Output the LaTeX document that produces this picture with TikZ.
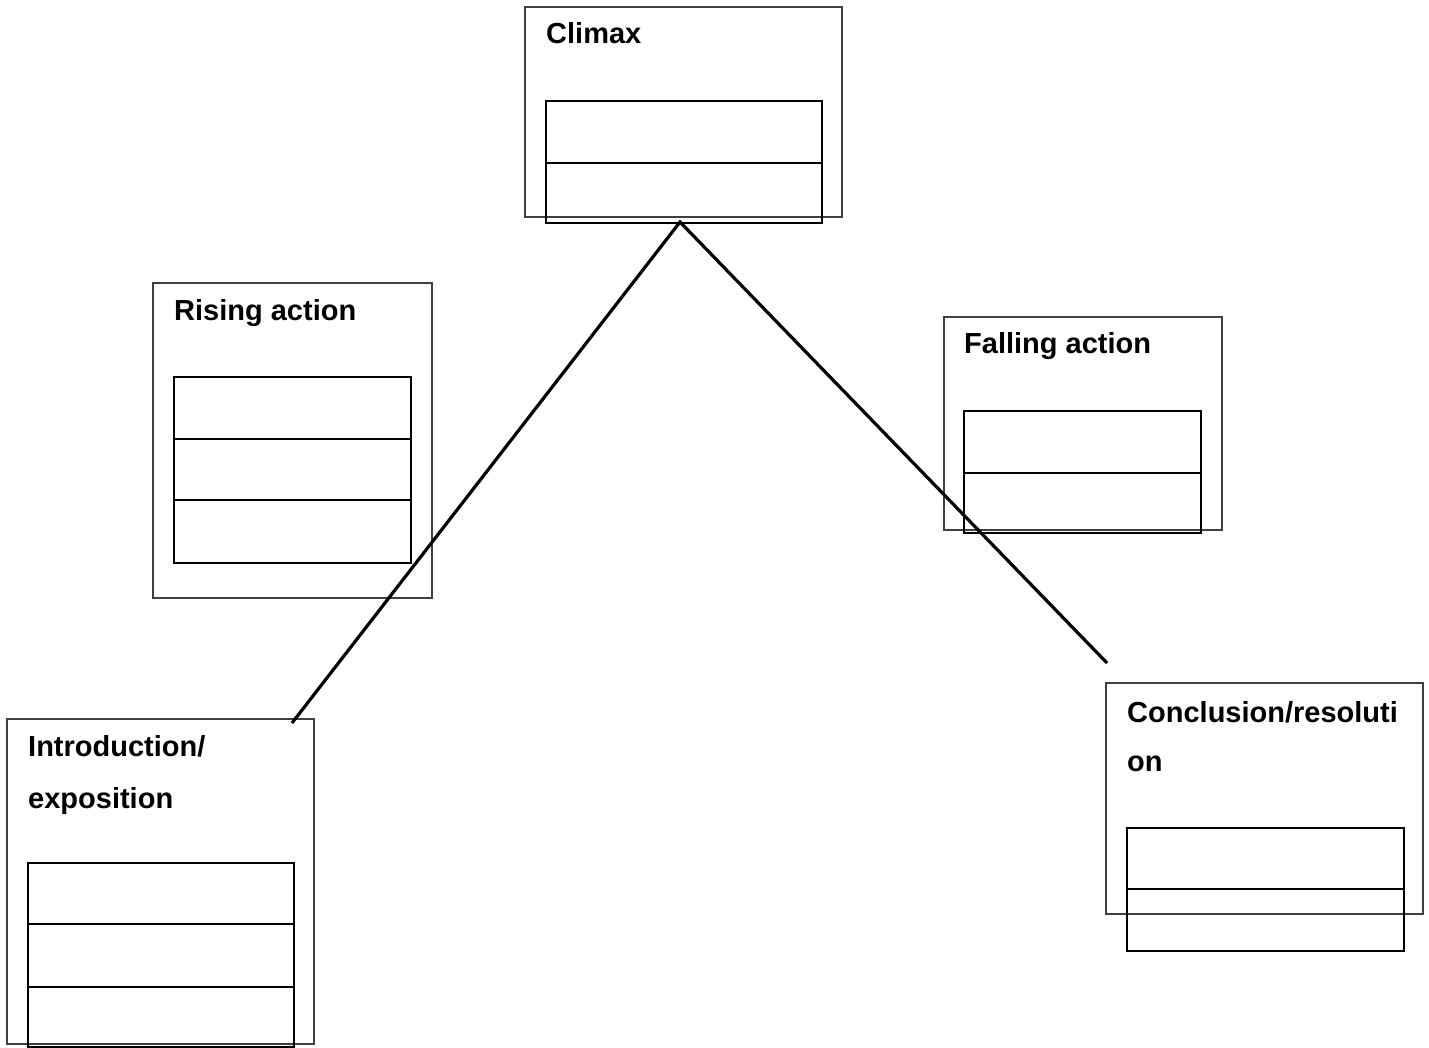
\documentclass[tikz,border=0pt]{standalone}
\usepackage{fontspec}
\setmainfont{Liberation Sans}
\begin{document}
\begin{tikzpicture}[x=1pt,y=-1pt,
  frame/.style={draw=black!75, line width=1.1pt, inner sep=0pt, rectangle},
  cell/.style={draw=black, line width=2.3pt},
  headtext/.style={anchor=base west, inner sep=0pt, font=\fontsize{29}{34}\selectfont\bfseries},
  plotline/.style={draw=black, line width=3.2pt}]
  \useasboundingbox (0,0) rectangle (1429,1048);

  % stage frames
  \node[frame, minimum width=317pt, minimum height=210pt] (climax)  at (683.5,112) {};
  \node[frame, minimum width=279pt, minimum height=315pt] (rising)  at (292.5,440.5) {};
  \node[frame, minimum width=278pt, minimum height=213pt] (falling) at (1083,423.5) {};
  \node[frame, minimum width=307pt, minimum height=325pt] (intro)   at (160.5,881.5) {};
  \node[frame, minimum width=317pt, minimum height=231pt] (concl)   at (1264.5,798.5) {};

  % stage titles
  \node[headtext] (climaxT)  at (546,44)  {Climax};
  \node[headtext] (risingT)  at (174,321) {Rising action};
  \node[headtext] (fallingT) at (964,354) {Falling action};
  \node[headtext] (introT)   at (28,756)  {Introduction/};
  \node[headtext] (introT2)  at (28,808)  {exposition};
  \node[headtext] (conclT)   at (1127,722) {Conclusion/resoluti};
  \node[headtext] (conclT2)  at (1127,771) {on};

  % writing cells
  \draw[cell] (546,101) rectangle (822,223);
  \draw[cell] (546,163) -- (822,163);

  \draw[cell] (174,377) rectangle (411,563);
  \draw[cell] (174,439) -- (411,439);
  \draw[cell] (174,500) -- (411,500);

  \draw[cell] (964,411) rectangle (1201,533);
  \draw[cell] (964,473) -- (1201,473);

  \draw[cell] (28,863) rectangle (294,1047);
  \draw[cell] (28,924) -- (294,924);
  \draw[cell] (28,987) -- (294,987);

  \draw[cell] (1127,828) rectangle (1404,951);
  \draw[cell] (1127,889) -- (1404,889);

  % plot line
  \coordinate (start) at (292,723);
  \coordinate (peak)  at (680,222);
  \coordinate (stop)  at (1107,663);
  \draw[plotline] (start) -- (peak) -- (stop);
\end{tikzpicture}
\end{document}
